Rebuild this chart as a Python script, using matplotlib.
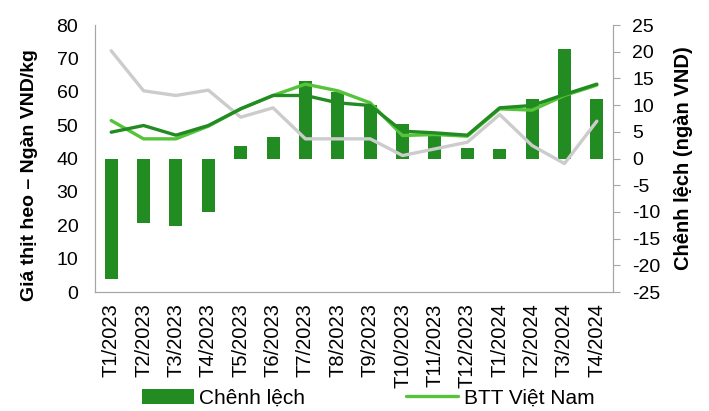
import matplotlib.pyplot as plt
import numpy as np

# data
months = ["T1/2023", "T2/2023", "T3/2023", "T4/2023", "T5/2023", "T6/2023",
          "T7/2023", "T8/2023", "T9/2023", "T10/2023", "T11/2023", "T12/2023",
          "T1/2024", "T2/2024", "T3/2024", "T4/2024"]
chenh_lech = [-22.6, -12.1, -12.6, -10.0, 2.4, 4.0, 14.5, 12.5, 10.0, 6.4,
              4.6, 2.0, 1.8, 11.1, 20.6, 11.1]
btt_vn = [51.4, 45.9, 45.9, 49.7, 54.9, 58.9, 62.3, 60.3, 56.7, 46.9,
          47.2, 46.7, 54.9, 54.5, 58.9, 62.0]
gia_dam = [47.9, 49.9, 47.0, 49.9, 54.9, 58.9, 58.9, 56.7, 55.9, 48.2,
           47.7, 47.0, 55.2, 55.9, 59.2, 62.3]
gia_xam = [72.3, 60.3, 58.9, 60.5, 52.4, 55.2, 45.9, 45.9, 45.9, 40.9,
           42.9, 44.9, 53.2, 43.9, 38.5, 51.2]

plt.rcParams['font.family'] = ['Liberation Sans', 'DejaVu Sans']
plt.rcParams['axes.unicode_minus'] = False

dark = "#228B22"
light = "#55C43A"
grey = "#CCCCCC"
spine_col = "#A6A6A6"

fig = plt.figure(figsize=(7.09, 4.11), dpi=100)
ax1 = fig.add_axes([0.134, 0.2895, 0.7306, 0.6495])
ax2 = ax1.twinx()

x = np.arange(len(months))

# bars on the right axis
bars = ax2.bar(x, chenh_lech, width=0.4, color=dark, zorder=2)
ax2.set_ylim(-25, 25)
ax2.set_yticks(np.arange(-25, 26, 5))
ax2.set_ylabel("Chênh lệch (ngàn VND)", fontsize=14.5, fontweight="bold")
ax2.yaxis.set_label_coords(1.1175, 0.502)

# lines on the left axis, drawn above the bars
ax1.plot(x, gia_xam, color=grey, lw=2.4, solid_capstyle="round")
(l_btt,) = ax1.plot(x, btt_vn, color=light, lw=2.4, solid_capstyle="round")
ax1.plot(x, gia_dam, color=dark, lw=2.4, solid_capstyle="round")
ax1.set_zorder(ax2.get_zorder() + 1)
ax1.patch.set_visible(False)

ax1.set_ylim(0, 80)
ax1.set_yticks(np.arange(0, 81, 10))
ax1.set_xlim(-0.5, len(months) - 0.5)
ax1.set_xticks(x)
ax1.set_xticklabels(months, rotation=90, fontsize=14.5)
ax1.set_ylabel("Giá thịt heo – Ngàn VND/kg", fontsize=14, fontweight="bold")
ax1.yaxis.set_label_coords(-0.111, 0.438)

for a in (ax1, ax2):
    a.spines["top"].set_visible(False)
    for s in ("left", "right", "bottom"):
        a.spines[s].set_color(spine_col)
ax1.tick_params(axis="y", length=0, pad=12, labelsize=14)
ax1.tick_params(axis="x", length=0, pad=8)
ax2.tick_params(axis="y", length=5, color=spine_col, pad=9, labelsize=14)

fig.legend([bars, l_btt], ["Chênh lệch", "BTT Việt Nam"], ncol=2,
           loc="center left", bbox_to_anchor=(0.2003, 0.031), frameon=False,
           borderpad=0, borderaxespad=0, handlelength=2.5, handletextpad=0.25,
           columnspacing=4.85, fontsize=15)

fig.savefig("out.png", dpi=100)
